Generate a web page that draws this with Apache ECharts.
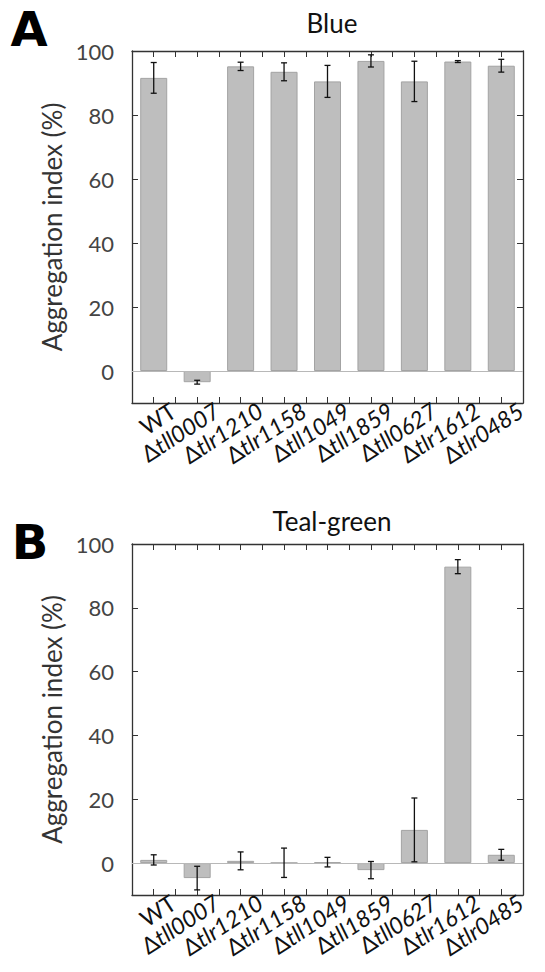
<!DOCTYPE html>
<html lang="en">
  <head>
    <meta charset="UTF-8" />
    <script src="https://cdn.jsdelivr.net/npm/echarts@6/dist/echarts.min.js"></script>
    <title>Aggregation index</title>
  </head>
  <body style="margin: 0">
    <div id="chart" style="width: 545px; height: 972px"></div>
  </body>
</html>

<script>
  // strain names, all but WT get a "Δ" prefix and italic gene name
  const strains = ["WT", "tll0007", "tlr1210", "tlr1158", "tll1049", "tll1859", "tll0627", "tlr1612", "tlr0485"];
  const blueMean = [91.6, -3.5, 95.2, 93.5, 90.5, 96.9, 90.5, 96.7, 95.4];
  const blueErr = [4.8, 0.6, 1.3, 2.8, 5.0, 1.9, 6.3, 0.3, 2.0];
  const tealMean = [1.0, -4.7, 0.7, 0.1, 0.3, -2.2, 10.4, 92.9, 2.6];
  const tealErr = [1.6, 3.7, 2.8, 4.6, 1.5, 2.7, 10.0, 2.2, 1.7];
  const yTicks = [0, 20, 40, 60, 80, 100];
  // labels are split over two axes so the rotated names don't get auto-hidden
  const evenIdx = [0, 2, 4, 6, 8];
  const oddIdx = [1, 3, 5, 7];

  const fontFam = "Lato, 'Open Sans', sans-serif";
  const barColor = "#bebebe";
  const labelShift = 0.45; // labels sit a bit right of the bar centres

  const chart = echarts.init(document.getElementById("chart"), null, { renderer: "svg" });

  const labelFmt = (v) => {
    const i = Math.round(v);
    if (i < 0 || i >= strains.length) return "";
    return i === 0 ? strains[i] : "Δ{i|" + strains[i] + "}";
  };

  const boxAxis = (gi, pos) => ({
    gridIndex: gi,
    type: "value",
    min: -0.5,
    max: 8.5,
    interval: 0.5,
    position: pos,
    splitLine: { show: false },
    axisLine: { onZero: false, lineStyle: { color: "#333", width: 1.3 } },
    axisTick: { inside: true, length: 6, lineStyle: { color: "#333" } },
    axisLabel: { show: false },
  });

  const labelAxis = (gi, vals) => ({
    gridIndex: gi,
    type: "value",
    min: -0.5 - labelShift,
    max: 8.5 - labelShift,
    position: "bottom",
    splitLine: { show: false },
    axisLine: { show: false, onZero: false },
    axisTick: { show: false },
    axisLabel: {
      rotate: 33,
      margin: 5,
      showMinLabel: true,
      showMaxLabel: true,
      hideOverlap: false,
      customValues: vals,
      formatter: labelFmt,
      color: "#111",
      fontSize: 23,
      fontFamily: fontFam,
      rich: { i: { fontStyle: "italic", fontSize: 23, fontFamily: fontFam, color: "#111" } },
    },
  });

  const xAxes = (gi) => [boxAxis(gi, "bottom"), boxAxis(gi, "top"), labelAxis(gi, evenIdx), labelAxis(gi, oddIdx)];

  const yAxes = (gi) => [
    {
      gridIndex: gi,
      type: "value",
      min: -10,
      max: 100,
      position: "left",
      name: "Aggregation index (%)",
      nameLocation: "middle",
      nameGap: 62,
      nameTextStyle: { fontSize: 26, color: "#333", fontFamily: fontFam },
      splitLine: { show: false },
      axisLine: { show: true, onZero: false, lineStyle: { color: "#333", width: 1.3 } },
      axisTick: { inside: true, length: 6, lineStyle: { color: "#333" }, customValues: yTicks },
      axisLabel: { margin: 18, fontSize: 22, color: "#444", fontFamily: fontFam, customValues: yTicks },
    },
    {
      gridIndex: gi,
      type: "value",
      min: -10,
      max: 100,
      position: "right",
      splitLine: { show: false },
      axisLine: { show: true, onZero: false, lineStyle: { color: "#333", width: 1.3 } },
      axisTick: { inside: true, length: 6, lineStyle: { color: "#333" }, customValues: yTicks },
      axisLabel: { show: false },
    },
  ];

  const barSeries = (gi, means) => ({
    type: "bar",
    xAxisIndex: gi * 4,
    yAxisIndex: gi * 2,
    barWidth: 27,
    data: means.map((m, i) => [i, m]),
    itemStyle: { color: barColor, borderColor: "#a3a3a3", borderWidth: 1 },
    markLine: {
      silent: true,
      symbol: "none",
      label: { show: false },
      lineStyle: { color: "#b8b8b8", width: 1, type: "solid" },
      data: [{ yAxis: 0 }],
    },
  });

  const errSeries = (gi, means, errs) => ({
    type: "custom",
    xAxisIndex: gi * 4,
    yAxisIndex: gi * 2,
    z: 5,
    data: means.map((m, i) => [i, m - errs[i], m + errs[i]]),
    renderItem: (params, api) => {
      const lo = api.coord([api.value(0), api.value(1)]);
      const hi = api.coord([api.value(0), api.value(2)]);
      const cap = 3;
      const style = { stroke: "#111", lineWidth: 1.3 };
      return {
        type: "group",
        children: [
          { type: "line", shape: { x1: lo[0], y1: lo[1], x2: hi[0], y2: hi[1] }, style },
          { type: "line", shape: { x1: lo[0] - cap, y1: lo[1], x2: lo[0] + cap, y2: lo[1] }, style },
          { type: "line", shape: { x1: hi[0] - cap, y1: hi[1], x2: hi[0] + cap, y2: hi[1] }, style },
        ],
      };
    },
  });

  const letterStyle = (txt, x, y) => ({
    type: "text",
    x: x,
    y: y,
    style: {
      text: txt,
      fontSize: 48,
      fontWeight: 900,
      fontFamily: "'DejaVu Sans'",
      fill: "#000",
      align: "center",
      verticalAlign: "middle",
    },
  });
  const panelTitle = { fontSize: 26, fontWeight: "normal", fontFamily: fontFam, color: "#111" };

  const option = {
    animation: false,
    title: [
      { text: "Blue", left: 327, top: 5, textAlign: "center", textStyle: panelTitle },
      { text: "Teal-green", left: 327, top: 503, textAlign: "center", textStyle: panelTitle },
    ],
    graphic: [letterStyle("A", 29, 29), letterStyle("B", 30, 542)],
    grid: [
      { left: 132, right: 22, top: 51, height: 352 },
      { left: 132, right: 22, top: 544, height: 351 },
    ],
    xAxis: [...xAxes(0), ...xAxes(1)],
    yAxis: [...yAxes(0), ...yAxes(1)],
    series: [
      barSeries(0, blueMean),
      errSeries(0, blueMean, blueErr),
      barSeries(1, tealMean),
      errSeries(1, tealMean, tealErr),
    ],
  };

  chart.setOption(option);
</script>
